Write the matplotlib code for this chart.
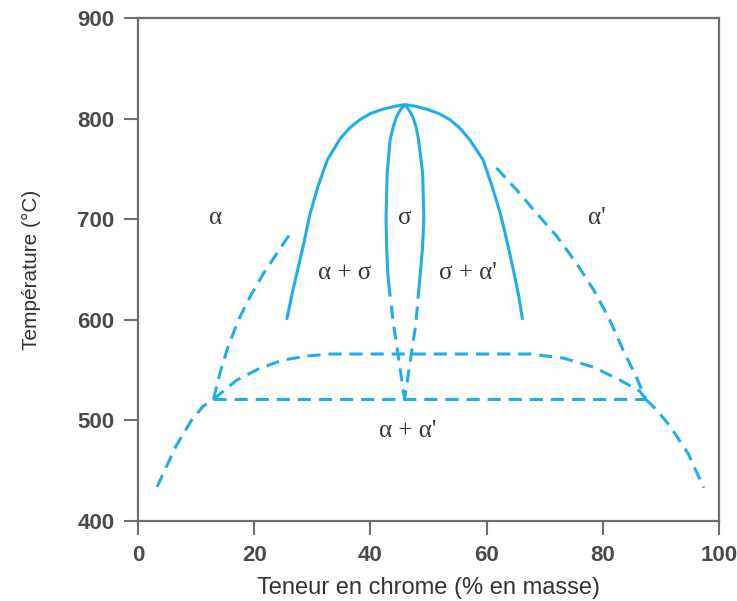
import numpy as np
import matplotlib
matplotlib.use("Agg")
import matplotlib.pyplot as plt

# --- diagram values (Cr wt%, temperature degC) ---
# sigma dome, outer boundaries (solid)
dome_left_x = [25.6, 26.5, 27.5, 28.5, 29.6, 31.0, 32.6, 34.8, 36.5, 38.2, 40.0, 41.9, 44.0, 46.0]
dome_left_t = [600, 625, 650, 675, 705, 733, 759, 780, 791, 799, 805, 809, 812, 814]
dome_right_x = [46.0, 48.0, 49.9, 51.8, 53.7, 55.5, 57.1, 59.4, 61.0, 62.4, 63.6, 64.6, 65.5, 66.2]
dome_right_t = [814, 812, 809, 805, 799, 790, 779, 759, 732, 705, 676, 650, 625, 600]

# sigma single phase lens (solid part)
sig_left_x = [46.0, 45.2, 44.5, 43.9, 43.4, 42.9, 42.7, 42.8, 43.0, 43.4]
sig_left_t = [814, 809, 802, 791, 779, 746, 701, 673, 646, 623]
sig_right_x = [46.0, 46.6, 47.3, 47.9, 48.3, 49.0, 49.2, 49.0, 48.6, 48.2]
sig_right_t = [814, 809, 802, 791, 779, 746, 701, 673, 646, 621]

# sigma lens, metastable extension (dashed)
sig_left_dx = [43.6, 44.0, 44.9, 45.9]
sig_left_dt = [614, 595, 560, 521]
sig_right_dx = [48.1, 47.8, 46.9, 45.9]
sig_right_dt = [613, 595, 560, 521]

# alpha / alpha+sigma limit (dashed)
alpha_x = [13.0, 13.3, 14.1, 15.5, 17.3, 19.3, 21.6, 23.9, 26.0]
alpha_t = [521, 528, 547, 573, 600, 623, 646, 666, 684]

# alpha' / sigma+alpha' limit (dashed)
alphap_x = [61.7, 65.2, 68.6, 72.1, 75.5, 78.4, 81.2, 83.5, 85.8, 87.4]
alphap_t = [751, 729, 706, 683, 656, 630, 600, 570, 543, 521]

# upper arc, plateau near 566 (dashed)
arc_x = [13.0, 17.0, 21.0, 25.0, 29.0, 33.0, 58.9, 67.5, 73.2, 78.4, 83.0, 86.4, 87.4]
arc_t = [521, 540, 552, 560, 564, 566, 566, 566, 562, 553, 540, 529, 521]

# eutectoid horizontal (dashed)
eut_x = [13.0, 87.4]
eut_t = [521, 521]

# miscibility gap alpha + alpha' (dashed)
gap_left_x = [3.3, 6.5, 9.2, 11.2, 13.0]
gap_left_t = [434, 474, 500, 514, 521]
gap_right_x = [87.4, 89.0, 91.5, 94.7, 97.4]
gap_right_t = [521, 512, 495, 467, 433]

# phase field labels
lab_text = ["\u03b1", "\u03c3", "\u03b1'", "\u03b1 + \u03c3", "\u03c3 + \u03b1'", "\u03b1 + \u03b1'"]
lab_x = [13.3, 46.0, 79.0, 35.6, 56.8, 46.5]
lab_t = [701, 701, 701, 647, 647, 489]

xticks = [0, 20, 40, 60, 80, 100]
yticks = [400, 500, 600, 700, 800, 900]

blue = "#1faee6"
grey = "#707070"
lw = 2.2
dash = (0, (4.3, 2.6))

fig = plt.figure(figsize=(7.37, 6.01), dpi=100)
ax = fig.add_axes([0.1872, 0.1331, 0.7883, 0.8369])

for xs, ts in [(dome_left_x, dome_left_t), (dome_right_x, dome_right_t),
               (sig_left_x, sig_left_t), (sig_right_x, sig_right_t)]:
    ax.plot(xs, ts, color=blue, lw=lw, solid_capstyle="butt", solid_joinstyle="round")

for xs, ts in [(sig_left_dx, sig_left_dt), (sig_right_dx, sig_right_dt),
               (alpha_x, alpha_t), (alphap_x, alphap_t), (arc_x, arc_t),
               (eut_x, eut_t), (gap_left_x, gap_left_t), (gap_right_x, gap_right_t)]:
    ax.plot(xs, ts, color=blue, lw=lw, linestyle=dash, dash_capstyle="butt")

for s, x, t in zip(lab_text, lab_x, lab_t):
    ax.text(x, t, s, ha="center", va="center", fontsize=18, color="#3a3530",
            family="Liberation Serif")

ax.set_xlim(0, 100)
ax.set_ylim(400, 900)
ax.set_xticks(xticks)
ax.set_yticks(yticks)
for lab in ax.get_xticklabels() + ax.get_yticklabels():
    lab.set_fontweight("bold")
    lab.set_family("Liberation Sans")
ax.tick_params(direction="out", length=10, width=1.5, color=grey,
               labelsize=16, labelcolor="#4a4a4a", pad=7)
for sp in ax.spines.values():
    sp.set_color(grey)
    sp.set_linewidth(1.6)

ax.set_xlabel("Teneur en chrome (% en masse)", fontsize=17, color="#333333",
              family="Liberation Sans", labelpad=8)
ax.set_ylabel("Température (°C)", fontsize=15, color="#333333",
              family="Liberation Sans", labelpad=26)

fig.savefig("out.png", dpi=100)
